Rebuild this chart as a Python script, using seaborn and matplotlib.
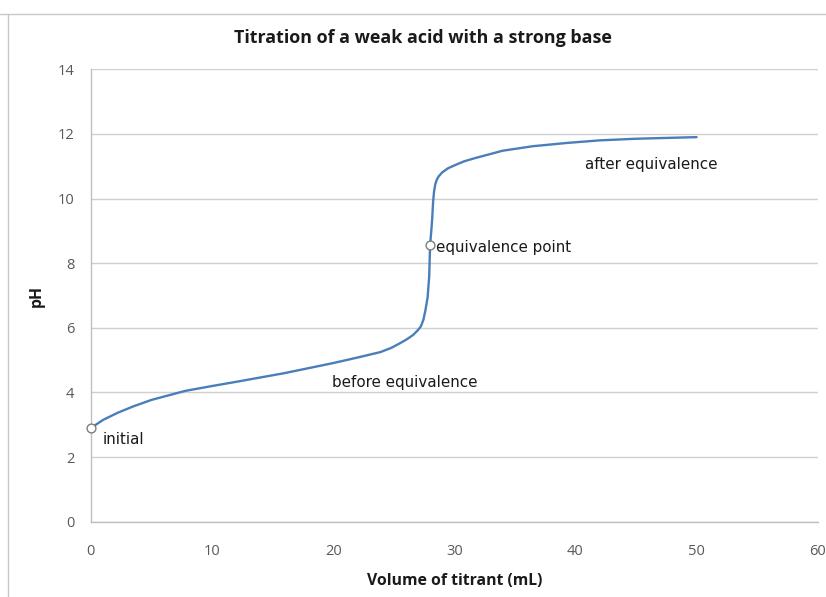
import matplotlib
matplotlib.use("Agg")
import matplotlib.pyplot as plt
from matplotlib.lines import Line2D
import seaborn as sns
import pandas as pd

title = "Titration of a weak acid with a strong base"
x_label = "Volume of titrant (mL)"
y_label = "pH"

volume_ml = [0, 1, 2.2, 3.5, 5, 7.8, 10, 12, 16, 20, 22, 23.9, 24.8, 25.5, 26.1,
             26.6, 27.0, 27.25, 27.45, 27.62, 27.8, 27.93, 28.0, 28.1, 28.18,
             28.25, 28.33, 28.43, 28.55, 28.7, 29.0, 29.5, 30.1, 30.8, 31.7,
             34.0, 36.5, 39.3, 42, 45, 50]
ph_values = [2.9, 3.15, 3.37, 3.57, 3.77, 4.05, 4.2, 4.33, 4.6, 4.91, 5.08, 5.25,
             5.38, 5.52, 5.65, 5.78, 5.93, 6.05, 6.25, 6.55, 6.95, 7.6, 8.55, 9.0,
             9.4, 9.9, 10.22, 10.44, 10.58, 10.68, 10.81, 10.94, 11.04, 11.15,
             11.25, 11.48, 11.62, 11.72, 11.8, 11.85, 11.9]

marker_x = [0, 28.0]
marker_y = [2.9, 8.55]

label_texts = ["initial", "before equivalence", "equivalence point", "after equivalence"]
label_x = [1.0, 19.9, 28.5, 40.8]
label_y = [2.55, 4.3, 8.5, 11.05]

x_ticks = [0, 10, 20, 30, 40, 50, 60]
y_ticks = [0, 2, 4, 6, 8, 10, 12, 14]

sns.set_theme(style="white")
plt.rcParams['font.family'] = ['Open Sans', 'DejaVu Sans']

fig = plt.figure(figsize=(8.26, 5.97), dpi=100)
ax = fig.add_axes([0.110, 0.126, 0.880, 0.758])

df = pd.DataFrame({"vol": volume_ml, "ph": ph_values})
sns.lineplot(data=df, x="vol", y="ph", ax=ax, color="#4a7ebb", linewidth=1.7)
sns.scatterplot(x=marker_x, y=marker_y, ax=ax, s=40, color="white",
                edgecolor="#7f7f7f", linewidth=1.0, zorder=5, clip_on=False)

for t, xx, yy in zip(label_texts, label_x, label_y):
    ax.text(xx, yy, t, fontsize=10.9, color="#1a1a1a", ha="left", va="center",
            family=["DejaVu Sans"])

ax.set_xlim(0, 60)
ax.set_ylim(0, 14)
ax.set_xticks(x_ticks)
ax.set_yticks(y_ticks)
ax.tick_params(axis="both", labelsize=10.5, colors="#595959", length=0)
ax.tick_params(axis="x", pad=16)
ax.tick_params(axis="y", pad=12)
ax.yaxis.grid(True, color="#d0d0d0", linewidth=1.0)
ax.xaxis.grid(False)
for side in ["top", "right"]:
    ax.spines[side].set_visible(False)
for side in ["left", "bottom"]:
    ax.spines[side].set_color("#bfbfbf")
    ax.spines[side].set_linewidth(1.0)

ax.set_xlabel(x_label, fontsize=11.3, fontweight="bold", color="#1a1a1a", labelpad=10)
ax.set_ylabel(y_label, fontsize=11.3, fontweight="bold", color="#1a1a1a", labelpad=9)
fig.text(0.512, 0.936, title, fontsize=12.9, fontweight="bold", color="#1a1a1a",
         ha="center", va="center")

fig.add_artist(Line2D([0.0, 1.0], [0.977, 0.977], color="#c8c8c8", linewidth=1.0,
                      transform=fig.transFigure))
fig.add_artist(Line2D([0.01, 0.01], [0.0, 0.977], color="#c8c8c8", linewidth=1.0,
                      transform=fig.transFigure))

fig.savefig("out.png", dpi=100)
